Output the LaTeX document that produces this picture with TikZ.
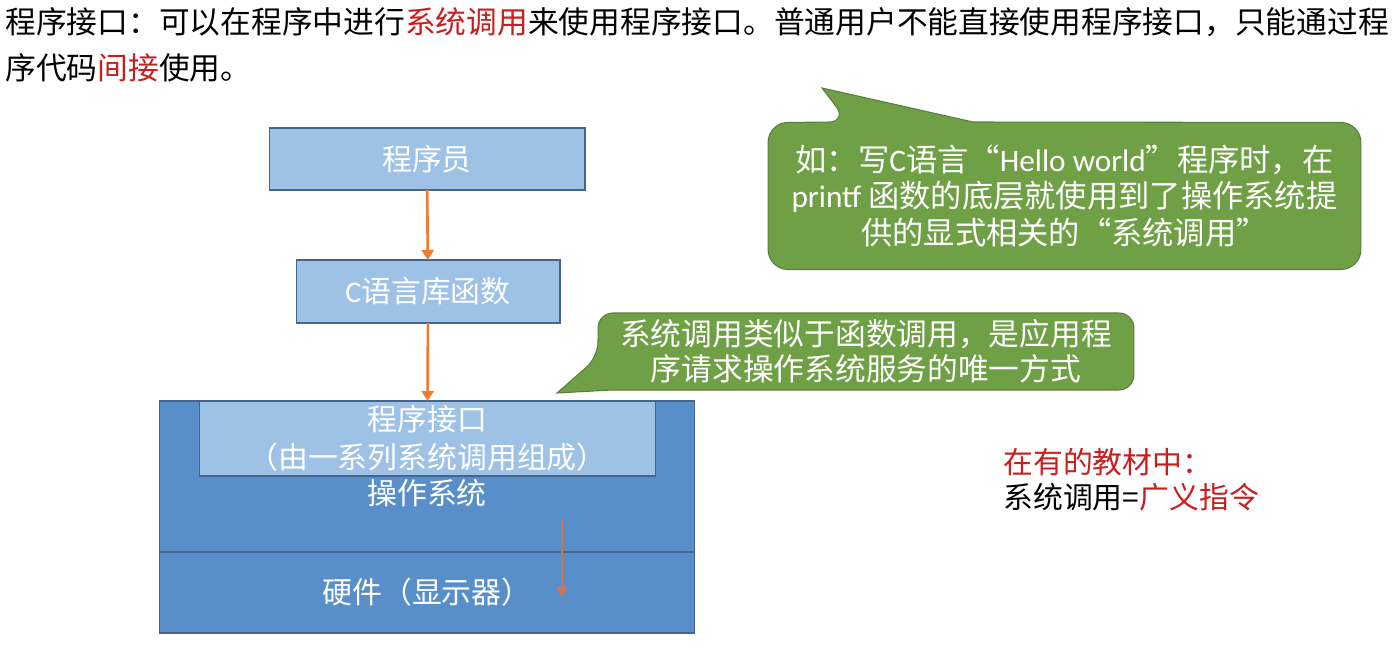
\documentclass[tikz,border=0pt]{standalone}
\usepackage{fontspec}
\setmainfont{Noto Sans CJK SC}
\newfontfamily\latinfont{Carlito}
\usetikzlibrary{arrows.meta,positioning,backgrounds}
\definecolor{boxlight}{RGB}{157,194,229}
\definecolor{boxdark}{RGB}{88,143,202}
\definecolor{boxedge}{RGB}{70,100,140}
\definecolor{arrowor}{RGB}{237,125,49}
\definecolor{arrowin}{RGB}{204,118,80}
\definecolor{tipgreen}{RGB}{112,160,70}
\definecolor{tipedge}{RGB}{88,128,55}
\definecolor{keyred}{RGB}{200,30,30}

\begin{document}
\begin{tikzpicture}[x=0.02cm,y=-0.02cm,
  lightbox/.style={draw=boxedge,fill=boxlight,line width=0.6pt,inner sep=0pt,outer sep=0pt,text=white,align=center,font=\fontsize{17}{21.5}\selectfont},
  darkbox/.style={lightbox,fill=boxdark},
  flow/.style={draw=arrowor,line width=1.5pt,-{Triangle[length=2mm,width=2.4mm]}},
  bubble/.style={fill=tipgreen,draw=tipedge,line width=0.6pt},
  bubbletext/.style={text=white,align=center,inner sep=0pt,outer sep=0pt}]

% Frame
\useasboundingbox (0,0) rectangle (1397,652);

% Heading
\node[anchor=base west,inner sep=0pt,font=\fontsize{17.5}{26}\selectfont] (intro1) at (5,34)
  {程序接口：可以在程序中进行\textcolor{keyred}{系统调用}来使用程序接口。普通用户不能直接使用程序接口，只能通过程};
\node[anchor=base west,inner sep=0pt,font=\fontsize{17.5}{26}\selectfont] (intro2) at (5,80)
  {序代码\textcolor{keyred}{间接}使用。};

% Layers
\node[darkbox,minimum width=10.72cm,minimum height=3.02cm] (os) at (427,476.5) {};
\node[darkbox,minimum width=10.72cm,minimum height=1.62cm] (hw) at (427,592.5) {硬件（显示器）};
\node[lightbox,minimum width=9.14cm,minimum height=1.5cm] (api) at (427.5,438.5)
  {程序接口\\（由一系列系统调用组成）};
\node[text=white,inner sep=0pt,font=\fontsize{17}{21.5}\selectfont] (oslabel) at (427,493) {操作系统};
\node[lightbox,minimum width=6.32cm,minimum height=1.24cm] (prog) at (427,159) {程序员};
\node[lightbox,minimum width=5.28cm,minimum height=1.26cm] (clib) at (428,291.5) {{\latinfont C}语言库函数};

% Calls
\draw[flow] (prog) -- (clib);
\draw[flow] (clib) -- (api);
\coordinate (callin) at (562,520);
\coordinate (callout) at (562,597);
\draw[flow,draw=arrowin] (callin) -- (callout);

% Speech bubbles
\node[bubbletext,minimum width=11.86cm,minimum height=2.94cm,font=\fontsize{17.8}{20.7}\selectfont] (hint) at (1064.5,196)
  {如：写{\latinfont C}语言“{\latinfont Hello world}”程序时，在\\{\latinfont printf} 函数的底层就使用到了操作系统提\\供的显式相关的“系统调用”};
\coordinate (hinttip) at (822,88);
\node[bubbletext,minimum width=10.72cm,minimum height=1.54cm,font=\fontsize{17.5}{19.8}\selectfont] (note) at (866,351.5)
  {系统调用类似于函数调用，是应用程\\序请求操作系统服务的唯一方式};
\coordinate (notetip) at (557,393);
\begin{scope}[on background layer]
\fill[white] (0,0) rectangle (1397,652);
\filldraw[bubble] (hint.east) [rounded corners=0.4cm] -- (hint.south east) -- (hint.south west) -- (hint.north west)
  -- (848,122) [sharp corners] -- (hinttip) -- (973,122) [rounded corners=0.4cm] -- (hint.north east) -- cycle;
\filldraw[bubble] (note.east) [rounded corners=0.3cm] -- (note.north east) -- (note.north west)
  -- (598,357) [sharp corners] -- (notetip) -- (612,390) [rounded corners=0.3cm] -- (note.south east) -- cycle;
\end{scope}

% Side remark
\node[anchor=west,align=left,inner sep=0pt,font=\fontsize{17}{19.8}\selectfont] (remark) at (1003,479.5)
  {\textcolor{keyred}{在有的教材中：}\\系统调用=\textcolor{keyred}{广义指令}};
\end{tikzpicture}
\end{document}
